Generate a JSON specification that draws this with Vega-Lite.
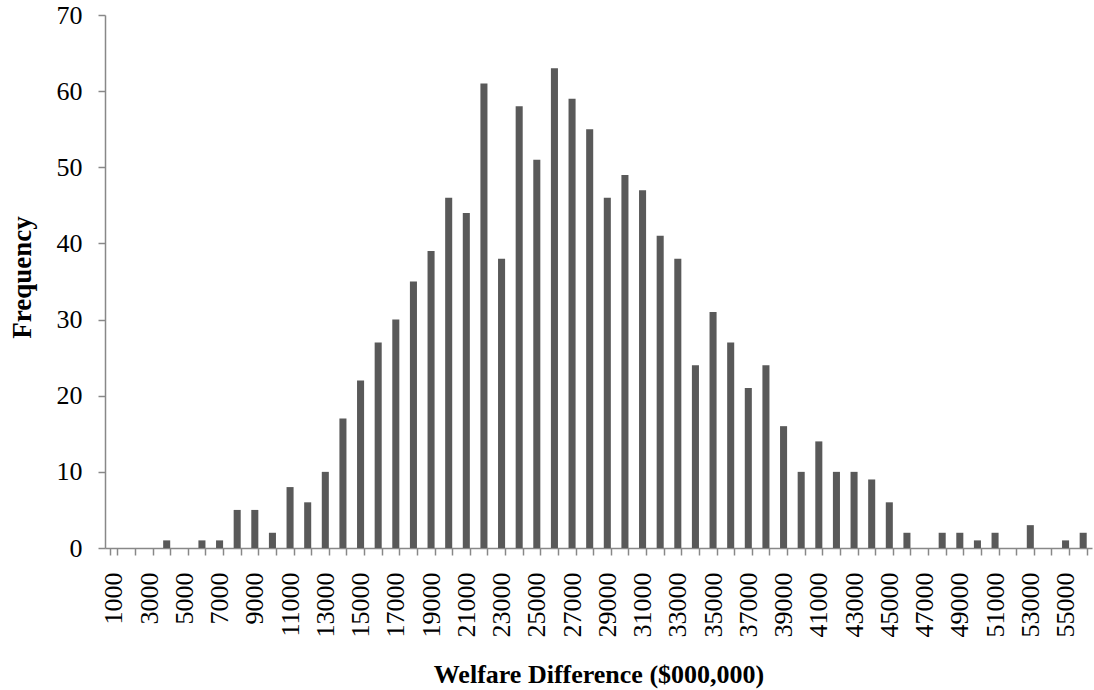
{
  "$schema": "https://vega.github.io/schema/vega-lite/v6.json",
  "autosize": "none",
  "width": 987,
  "height": 533,
  "padding": {"left": 105, "top": 15, "right": 2, "bottom": 142},
  "background": "white",
  "config": {"view": {"stroke": null}, "font": "Liberation Serif"},
  "data": {"values": [
    {"bin": 1000, "freq": 0}, {"bin": 2000, "freq": 0}, {"bin": 3000, "freq": 0}, {"bin": 4000, "freq": 1},
    {"bin": 5000, "freq": 0}, {"bin": 6000, "freq": 1}, {"bin": 7000, "freq": 1}, {"bin": 8000, "freq": 5},
    {"bin": 9000, "freq": 5}, {"bin": 10000, "freq": 2}, {"bin": 11000, "freq": 8}, {"bin": 12000, "freq": 6},
    {"bin": 13000, "freq": 10}, {"bin": 14000, "freq": 17}, {"bin": 15000, "freq": 22}, {"bin": 16000, "freq": 27},
    {"bin": 17000, "freq": 30}, {"bin": 18000, "freq": 35}, {"bin": 19000, "freq": 39}, {"bin": 20000, "freq": 46},
    {"bin": 21000, "freq": 44}, {"bin": 22000, "freq": 61}, {"bin": 23000, "freq": 38}, {"bin": 24000, "freq": 58},
    {"bin": 25000, "freq": 51}, {"bin": 26000, "freq": 63}, {"bin": 27000, "freq": 59}, {"bin": 28000, "freq": 55},
    {"bin": 29000, "freq": 46}, {"bin": 30000, "freq": 49}, {"bin": 31000, "freq": 47}, {"bin": 32000, "freq": 41},
    {"bin": 33000, "freq": 38}, {"bin": 34000, "freq": 24}, {"bin": 35000, "freq": 31}, {"bin": 36000, "freq": 27},
    {"bin": 37000, "freq": 21}, {"bin": 38000, "freq": 24}, {"bin": 39000, "freq": 16}, {"bin": 40000, "freq": 10},
    {"bin": 41000, "freq": 14}, {"bin": 42000, "freq": 10}, {"bin": 43000, "freq": 10}, {"bin": 44000, "freq": 9},
    {"bin": 45000, "freq": 6}, {"bin": 46000, "freq": 2}, {"bin": 47000, "freq": 0}, {"bin": 48000, "freq": 2},
    {"bin": 49000, "freq": 2}, {"bin": 50000, "freq": 1}, {"bin": 51000, "freq": 2}, {"bin": 52000, "freq": 0},
    {"bin": 53000, "freq": 3}, {"bin": 54000, "freq": 0}, {"bin": 55000, "freq": 1}, {"bin": 56000, "freq": 2}
  ]},
  "mark": {"type": "bar", "color": "#595959"},
  "encoding": {
    "x": {
      "field": "bin", "type": "ordinal", "sort": "ascending",
      "scale": {"paddingInner": 0.6, "paddingOuter": 0.3},
      "axis": {
        "title": "Welfare Difference ($000,000)",
        "titleFontSize": 26, "titleFontWeight": "bold", "titleColor": "black",
        "titleBaseline": "middle", "titleY": 126,
        "labelAngle": -90, "labelAlign": "right", "labelBaseline": "middle",
        "labelFontSize": 26, "labelColor": "black", "labelPadding": 17,
        "labelExpr": "(datum.value / 1000) % 2 == 1 ? datum.label : ''",
        "labelOverlap": false,
        "tickBand": "extent", "tickSize": 7, "tickColor": "#888888",
        "domainColor": "#888888", "domainWidth": 1.5, "tickWidth": 1.5,
        "grid": false
      }
    },
    "y": {
      "field": "freq", "type": "quantitative",
      "scale": {"domain": [0, 70]},
      "axis": {
        "title": "Frequency",
        "titleFontSize": 27, "titleFontWeight": "bold", "titleColor": "black",
        "titleBaseline": "middle", "titleX": -83, "titleY": 262, "titleAngle": -90,
        "values": [0, 10, 20, 30, 40, 50, 60, 70],
        "labelFontSize": 26, "labelColor": "black", "labelPadding": 16,
        "tickSize": 7, "tickColor": "#888888", "tickWidth": 1.5,
        "domainColor": "#888888", "domainWidth": 1.5,
        "grid": false
      }
    }
  }
}
